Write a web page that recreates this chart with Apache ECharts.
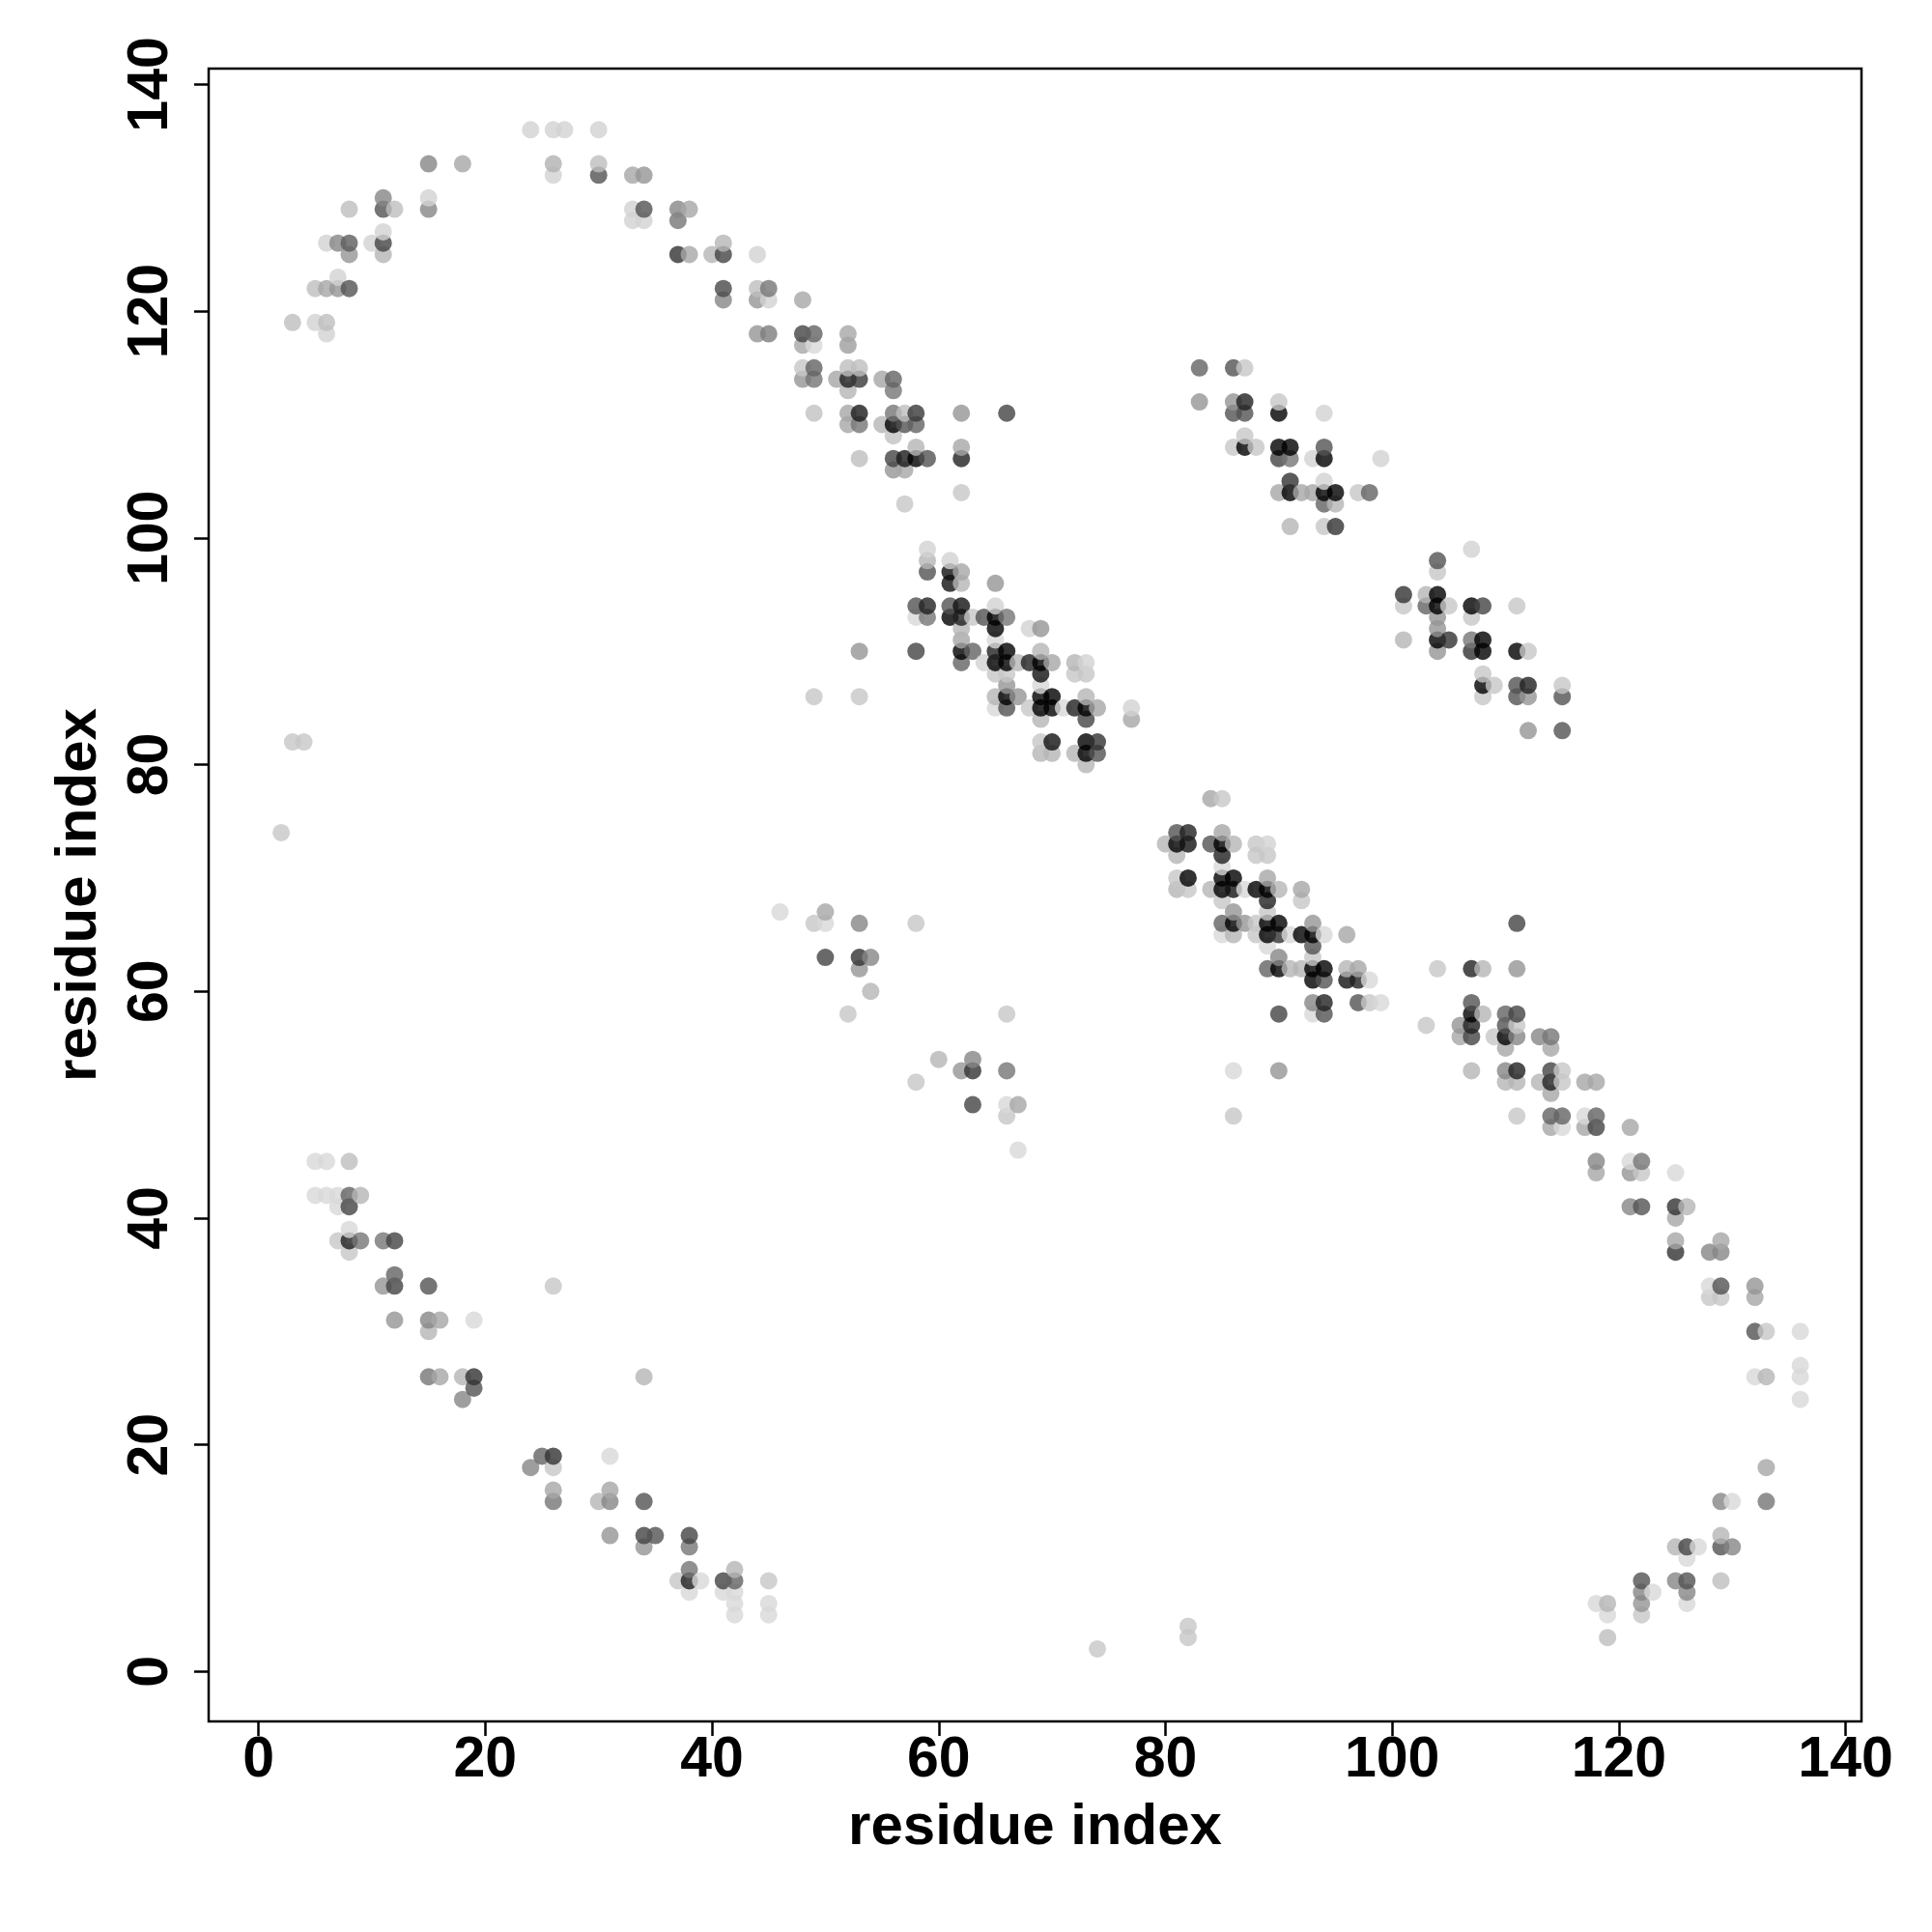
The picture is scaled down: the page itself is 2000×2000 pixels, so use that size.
<!DOCTYPE html>
<html>
<head>
<meta charset="utf-8">
<script src="https://cdn.jsdelivr.net/npm/echarts@6/dist/echarts.min.js"></script>
<style>html,body{margin:0;padding:0;background:#fff}#c{width:2000px;height:2000px}</style>
</head>
<body>
<div id="c"></div>
<script>
// Each point: [residue i, residue j, contact probability]
const topLeftArc = [
[24,136,.03],[26,136,.03],[27,136,.03],[30,136,.03],
[15,133,.38],[18,133,.23],[26,133,.18],[30,133,.12],
[26,132,.03],[30,132,.62],[33,132,.23],[34,132,.31],
[11,130,.38],[15,130,.03],
[8,129,.12],[11,129,.62],[12,129,.12],[15,129,.38],[33,129,.03],[34,129,.62],[37,129,.38],[38,129,.23],
[33,128,.03],[34,128,.03],[37,128,.46],
[11,127,.03],
[6,126,.03],[7,126,.38],[8,126,.57],[10,126,.03],[11,126,.69],
[8,125,.31],[11,125,.16],[37,125,.77],[38,125,.23],
[7,123,.03],
[5,122,.12],[6,122,.23],[7,122,.31],[8,122,.62],
[3,119,.12],[5,119,.03],[6,119,.12],
[6,118,.03]
];
const upperStrand = [
[40,125,.16],[41,126,.16],[41,125,.69],[44,125,.03],
[41,122,.66],[44,122,.12],[45,122,.46],
[41,121,.38],[44,121,.31],[45,121,.03],[48,121,.23],
[44,118,.31],[45,118,.42],[48,118,.69],[49,118,.54],[52,118,.23],
[48,117,.23],[49,117,0],[52,117,.27],
[48,115,.08],[49,115,.54],[52,115,.12],[53,115,.12],
[48,114,.31],[49,114,.46],[51,114,.23],[52,114,.85],[53,114,.74],[55,114,.23],[56,114,.54],
[52,113,.16],[56,113,.46],
[49,111,.1],[52,111,.23],[53,111,.88],[56,111,.46],[57,111,.12],[58,111,.74],[62,111,.31],[66,111,.69],
[52,110,.23],[53,110,.46],[55,110,.16],[56,110,1],[57,110,.62],[58,110,.54],
[56,109,.1],
[58,108,.16],[62,108,.23],
[53,107,.12],[56,107,.69],[57,107,.88],[58,107,1],[59,107,.62],[62,107,.85],
[56,106,.31],[57,106,.23],
[62,104,.08],
[57,103,.08]
];
const middleCluster = [
[59,99,.03],
[59,98,.16],[61,98,.03],
[59,97,.62],[61,97,.92],[62,97,.23],
[61,96,.92],[62,96,.16],[65,96,.31],
[58,94,.62],[59,94,.85],[61,94,.62],[62,94,.92],[65,94,.03],
[58,93,0],[59,93,.46],[61,93,1],[62,93,.85],[63,93,.08],[64,93,.62],[65,93,1],[66,93,.46],
[62,92,.16],[65,92,1],[68,92,.03],[69,92,.31],
[62,91,.23],[65,91,0],
[58,90,.69],[62,90,1],[63,90,.54],[65,90,.85],[66,90,1],[69,90,.16],
[62,89,.54],[64,89,.03],[65,89,1],[66,89,1],[67,89,.16],[68,89,.85],[69,89,1],[70,89,.23],[72,89,.16],[73,89,.03],
[65,88,.08],[66,88,.08],[69,88,.92],[72,88,.08],[73,88,.08],
[66,87,.31],[69,87,0],
[65,86,.16],[66,86,1],[67,86,.31],[69,86,1],[70,86,1],[73,86,.16],
[65,85,0],[66,85,.62],[68,85,.08],[69,85,1],[70,85,1],[71,85,0],[72,85,.85],[73,85,1],[74,85,.23],[77,85,.03],
[69,84,.16],[73,84,.69],[77,84,.23],
[69,82,.08],[70,82,.92],[73,82,1],[74,82,.77],
[69,81,.16],[70,81,.16],[72,81,.16],[73,81,1],[74,81,.62],
[73,80,.16]
];
const upperRightCluster = [
[83,115,.54],[86,115,.62],[87,115,.08],
[83,112,.31],[86,112,.31],[87,112,.85],[90,112,.08],
[86,111,.62],[87,111,.62],[90,111,1],[94,111,.03],
[87,109,.08],
[86,108,.08],[87,108,1],[88,108,.08],[90,108,1],[91,108,1],[94,108,.62],
[90,107,.69],[91,107,.46],[93,107,.03],[94,107,1],[99,107,.03],
[91,105,.77],[94,105,.03],
[90,104,.23],[91,104,1],[92,104,.23],[93,104,.23],[94,104,1],[95,104,1],[97,104,.08],[98,104,.54],
[94,103,.54],[95,103,.16],
[91,101,.16],[94,101,.08],[95,101,.77]
];
const rightCluster = [
[107,99,.03],
[104,98,.62],
[104,97,.08],
[101,95,.77],[103,95,.16],[104,95,1],
[101,94,.08],[103,94,.54],[104,94,1],[105,94,.08],[107,94,1],[108,94,.69],[111,94,.08],
[104,93,.31],[107,93,.08],
[104,92,.31],
[101,91,.16],[104,91,1],[105,91,.77],[107,91,.46],[108,91,1],
[104,90,.31],[107,90,.77],[108,90,1],[111,90,1],[112,90,.08],
[108,88,.08],
[108,87,1],[109,87,.08],[111,87,.62],[112,87,.85],[115,87,.08],
[108,86,.08],[111,86,.62],[112,86,.31],[115,86,.62],
[112,83,.31],[115,83,.62]
];
const lowerMiddleCluster = [
[84,77,.23],[85,77,.08],
[81,74,.62],[82,74,.85],[85,74,.23],
[80,73,.16],[81,73,1],[82,73,.92],[84,73,.62],[85,73,1],[86,73,.16],[88,73,.08],[89,73,.03],
[81,72,.16],[85,72,.85],[88,72,.08],[89,72,.08],
[85,71,0],
[81,70,.08],[82,70,1],[85,70,1],[86,70,1],[89,70,.23],
[81,69,.16],[82,69,.08],[84,69,.16],[85,69,1],[86,69,.92],[87,69,0],[88,69,1],[89,69,1],[90,69,.16],[92,69,.23],
[85,68,.08],[89,68,.85],[92,68,.08],
[86,67,.31],[89,67,.08],
[85,66,.54],[86,66,1],[87,66,.31],[88,66,.08],[89,66,1],[90,66,1],[93,66,.31],
[85,65,0],[86,65,.16],[88,65,.08],[89,65,1],[90,65,.77],[91,65,0],[92,65,1],[93,65,1],[94,65,0],[96,65,.23],
[89,64,0],[93,64,.62],
[90,63,.38],[93,63,.08],
[89,62,.54],[90,62,1],[91,62,.16],[92,62,.16],[93,62,1],[94,62,1],[96,62,.16],[97,62,.23],
[93,61,1],[94,61,.62],[96,61,.92],[97,61,.85],[98,61,0],
[93,59,.38],[94,59,.85],[97,59,.62],[98,59,.08],[99,59,0],
[90,58,.69],[93,58,0],[94,58,.62],
[86,53,0],[90,53,.31],
[86,49,.08]
];
const lowerRightStrand = [
[111,66,.69],
[104,62,.08],[107,62,.85],[108,62,.16],[111,62,.31],
[107,59,.62],
[107,58,1],[108,58,.16],[110,58,.54],[111,58,.69],
[103,57,.08],[106,57,.31],[107,57,.85],[110,57,.62],[111,57,.08],
[106,56,.23],[107,56,.69],[109,56,.08],[110,56,1],[111,56,.38],[113,56,.38],[114,56,.46],
[110,55,.23],[114,55,.23],
[107,53,.16],[110,53,.38],[111,53,.85],[114,53,.69],[115,53,.08],
[110,52,.16],[111,52,.16],[113,52,.16],[114,52,.85],[115,52,.08],[117,52,.23],[118,52,.23],
[114,51,.23],
[111,49,.08],[114,49,.54],[115,49,.54],[117,49,0],[118,49,.54],
[114,48,.23],[115,48,0],[117,48,.23],[118,48,.69],[121,48,.23],
[118,45,.38],[121,45,0],[122,45,.46],
[118,44,.23],[121,44,.31],[122,44,.08],[125,44,0],
[121,41,.38],[122,41,.62],[125,41,.77],[126,41,.16],
[125,40,.23],
[125,38,.23],[129,38,.23],
[125,37,.77],[128,37,.38],[129,37,.38],
[128,34,0],[129,34,.62],[132,34,.31],
[128,33,.08],[129,33,.08],[132,33,.23],
[132,30,.62],[133,30,.08],[136,30,0],
[136,27,0],
[132,26,0],[133,26,.16],[136,26,0],
[136,24,0]
];
const bottomRightArc = [
[133,18,.23],
[129,15,.38],[130,15,0],[133,15,.46],
[129,12,.16],
[125,11,.16],[126,11,.69],[127,11,0],[129,11,.62],[130,11,.38],
[126,10,0],
[122,8,.62],[125,8,.38],[126,8,.62],[129,8,.12],
[122,7,.38],[123,7,0],[126,7,.38],
[118,6,0],[119,6,.16],[122,6,.31],[126,6,0],
[119,5,0],[122,5,.08],
[119,3,.12]
];
const lowerLeftStrand = [
[5,45,0],[6,45,0],[8,45,.12],
[5,42,0],[6,42,0],[7,42,0],[8,42,.54],[9,42,.16],
[7,41,0],[8,41,.69],
[8,39,0],
[7,38,.08],[8,38,.85],[9,38,.46],[11,38,.46],[12,38,.69],
[8,37,.08],
[12,35,.54],
[11,34,.31],[12,34,.69],[15,34,.62],
[12,31,.31],[15,31,.38],[16,31,.23],[19,31,0],
[15,30,.16],
[15,26,.46],[16,26,.23],[18,26,.16],[19,26,.77],
[19,25,.62],
[18,24,.38],
[25,19,.54],[26,19,.77],[31,19,0],
[24,18,.38],[26,18,.08],
[26,16,.23],[31,16,.23],
[26,15,.46],[30,15,.16],[31,15,.38],[34,15,.62],
[31,12,.31],[34,12,.69],[35,12,.62],[38,12,.69],
[34,11,.31],[38,11,.46],
[38,9,.46],[42,9,.16],
[37,8,.08],[38,8,.85],[39,8,0],[41,8,.69],[42,8,.54],[45,8,.08],
[38,7,0],[41,7,0],[42,7,0],
[42,6,0],[45,6,0],
[42,5,0],[45,5,0]
];
const scatteredMiddle = [
[46,67,0],[50,67,.23],
[49,66,.08],[50,66,0],[53,66,.38],[58,66,.08],
[50,63,.69],[53,63,.77],[54,63,.38],
[53,62,.31],
[54,60,.16],
[52,58,.08],[66,58,.08],
[60,54,.16],[63,54,.38],
[62,53,.31],[63,53,.77],[66,53,.46],
[58,52,.08],
[63,50,.69],[66,50,0],[67,50,.23],
[66,49,.08],
[67,46,0]
];
const isolated = [
[2,74,.08],[3,82,.08],[4,82,.08],[74,2,.08],[82,3,.08],[82,4,.08],
[49,86,.08],[53,86,.08],[53,90,.31],[26,34,.08],[34,26,.16]
];
const tickValues = [0,20,40,60,80,100,120,140];
const axisRange = [-4.4, 141.4];

const allPoints = [].concat(topLeftArc, upperStrand, middleCluster, upperRightCluster,
  rightCluster, lowerMiddleCluster, lowerRightStrand, bottomRightArc, lowerLeftStrand,
  scatteredMiddle, isolated).slice().sort((a,b)=> a[0]-b[0] || a[1]-b[1]);

function grayFor(p){
  const g = Math.round(216*(1-p));
  return 'rgb('+g+','+g+','+g+')';
}

const FONT = '"Liberation Sans", Arial, Helvetica, sans-serif';
const chart = echarts.init(document.getElementById('c'), null, {renderer:'canvas'});
const axisCommon = {
  type:'value', min: axisRange[0], max: axisRange[1],
  axisLine:{show:false, onZero:false},
  splitLine:{show:false},
  axisTick:{show:true, length:15, customValues: tickValues, lineStyle:{color:'#000', width:2.5}},
  name:'residue index', nameLocation:'middle',
  nameTextStyle:{fontSize:60, fontWeight:'bold', color:'#000', fontFamily: FONT}
};
chart.setOption({
  animation:false,
  backgroundColor:'#fff',
  grid:{left:216, right:73, top:71, bottom:218, show:true, borderColor:'#000', borderWidth:2.5, containLabel:false},
  xAxis: Object.assign({}, axisCommon, {
    position:'bottom',
    nameGap: 80,
    axisLabel:{customValues: tickValues, fontSize:59, fontWeight:'bold', color:'#000', fontFamily: FONT, margin:11}
  }),
  yAxis: Object.assign({}, axisCommon, {
    position:'left',
    nameGap: 104,
    axisLabel:{customValues: tickValues, fontSize:59, fontWeight:'bold', color:'#000', fontFamily: FONT, margin:30, rotate:90}
  }),
  series:[{
    type:'scatter',
    symbol:'circle',
    symbolSize:18,
    data: allPoints.map(p=>({value:[p[0],p[1]], itemStyle:{color:grayFor(p[2])}})),
    emphasis:{disabled:true}
  }]
});
</script>
</body>
</html>
